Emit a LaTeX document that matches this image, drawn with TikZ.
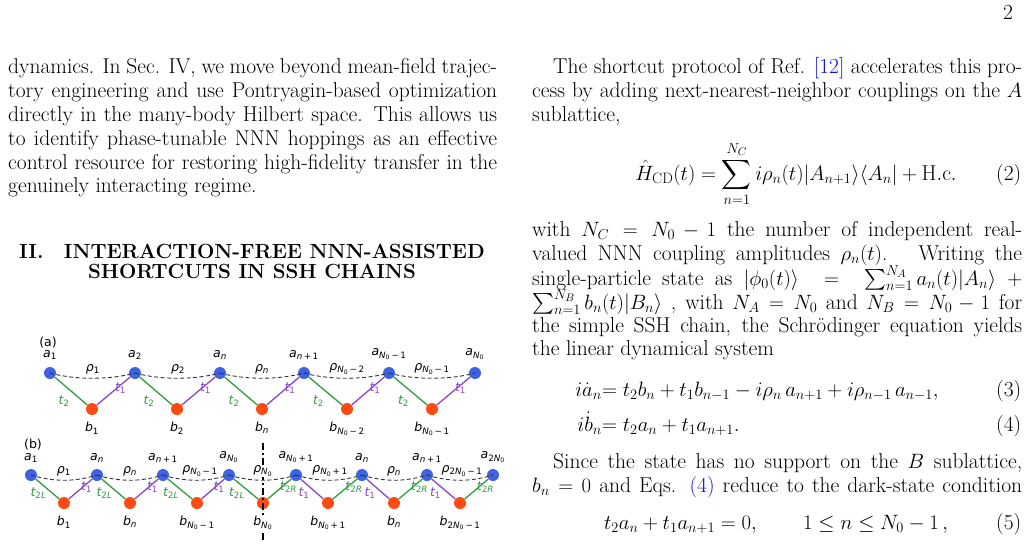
\documentclass[tikz,border=0pt]{standalone}
\usepackage{amsmath}
\usepackage{fontspec}
\usetikzlibrary{calc,positioning}
\newfontfamily\dv{DejaVu Sans}
\definecolor{nblue}{HTML}{3F63E0}
\definecolor{nred}{HTML}{FF4A12}
\definecolor{tgreen}{HTML}{2E9E3E}
\definecolor{tpurple}{HTML}{8B45C8}
\definecolor{lnk}{HTML}{1010E0}
\newcommand\sv[2]{{\itshape #1}\textsubscript{#2}}
\newcommand\NN{\sv{N}{0}}
\newcommand\nn{{\itshape n}}
\begin{document}
\begin{tikzpicture}[x=1pt,y=-1pt,
  txt/.style={anchor=base west,inner sep=0pt,font=\fontsize{21.5}{24}\selectfont},
  eqn/.style={anchor=base,inner sep=0pt,font=\fontsize{21.5}{24}\selectfont},
  anode/.style={circle,fill=nblue,inner sep=0pt,minimum size=12pt},
  bnode/.style={circle,fill=nred,inner sep=0pt,minimum size=12pt},
  lab/.style={inner sep=0pt,font=\dv\fontsize{12.5}{14}\selectfont},
  tg/.style={draw=tgreen,line width=1.3pt},
  tp/.style={draw=tpurple,line width=1.3pt},
  nnn/.style={draw=black!80,dashed,line width=0.9pt,dash pattern=on 4pt off 2.5pt}]
\useasboundingbox (0,0) rectangle (1029,555);
\newcommand\jl[4]{\node[txt] at (#1,#2) {\makebox[#3pt][s]{#4}};}
% page number
\node[txt] (pg) at (1003,19) {2};
% left column
\jl{8}{73}{489}{dynamics. In Sec. IV, we move beyond mean-field trajec-}
\jl{8}{97}{489}{tory engineering and use Pontryagin-based optimization}
\jl{8}{121}{489}{directly in the many-body Hilbert space. This allows us}
\jl{8}{145}{489}{to identify phase-tunable NNN hoppings as an effective}
\jl{8}{169}{489}{control resource for restoring high-fidelity transfer in the}
\node[txt] (l6) at (8,192) {genuinely interacting regime.};
\node[eqn,font=\fontsize{20.5}{24}\selectfont\bfseries] (h1) at (252,258) {II.\quad INTERACTION-FREE NNN-ASSISTED};
\node[eqn,font=\fontsize{20.5}{24}\selectfont\bfseries] (h2) at (252,278) {SHORTCUTS IN SSH CHAINS};
% right column
\jl{553}{73}{469}{The shortcut protocol of Ref. {\color{lnk}[12]} accelerates this pro-}
\jl{532}{97}{490}{cess by adding next-nearest-neighbor couplings on the $A$}
\node[txt] (r3) at (532,121) {sublattice,};
\node[eqn] (e2) at (796,180) {$\displaystyle \hat H_{\rm CD}(t)=\sum_{n=1}^{N_C} i\rho_n(t)|A_{n+1}\rangle\langle A_n|+{\rm H.c.}$};
\node[txt] (n2) at (996,180) {(2)};
\jl{532}{236}{490}{with $N_C=N_0-1$ the number of independent real-}
\jl{532}{260}{490}{valued NNN coupling amplitudes $\rho_n(t)$. \ Writing the}
\jl{532}{285}{490}{single-particle state as $|\phi_0(t)\rangle\ =\ \sum_{n=1}^{N_A}a_n(t)|A_n\rangle\ +$}
\jl{532}{309}{490}{$\sum_{n=1}^{N_B}b_n(t)|B_n\rangle$ , with $N_A=N_0$ and $N_B=N_0-1$ for}
\jl{532}{332}{490}{the simple SSH chain, the Schrödinger equation yields}
\node[txt] (r9) at (532,355) {the linear dynamical system};
\node[txt,anchor=base east] (e3l) at (602,396) {$i\dot a_n$};
\node[txt] (e3r) at (602,396) {$=t_2b_n+t_1b_{n-1}-i\rho_n\,a_{n+1}+i\rho_{n-1}\,a_{n-1},$};
\node[txt] (n3) at (996,396) {(3)};
\node[txt,anchor=base east] (e4l) at (602,431) {$i\dot b_n$};
\node[txt] (e4r) at (602,431) {$=t_2a_n+t_1a_{n+1}.$};
\node[txt] (n4) at (996,431) {(4)};
\jl{553}{468}{469}{Since the state has no support on the $B$ sublattice,}
\jl{532}{492}{490}{$b_n=0$ and Eqs. {\color{lnk}(4)} reduce to the dark-state condition}
\node[eqn] (e5) at (776,529) {$t_2a_n+t_1a_{n+1}=0,\qquad 1\le n\le N_0-1\,,$};
\node[txt] (n5) at (996,529) {(5)};
% ---------- figure (a)
\node[lab] (la) at (48,343) {(a)};
\foreach \x [count=\i] in {50,135,220,304,389,475} \node[anode] (A\i) at (\x,373) {};
\foreach \x [count=\i] in {92,177,262,347,432} \node[bnode] (B\i) at (\x,409) {};
\foreach \i [evaluate=\i as \j using int(\i+1)] in {1,...,5}{
  \draw[tg] (A\i) -- (B\i);
  \draw[tp] (B\i) -- (A\j);
  \draw[nnn] (A\i.center) .. controls +(25,7) and +(-25,7) .. (A\j.center);
  \node[lab,text=tgreen] at ($(A\i)!0.5!(B\i)+(-7,10)$) {\sv{t}{2}};
  \node[lab,text=tpurple] at ($(B\i)!0.5!(A\j)+(7,-3)$) {\sv{t}{1}};
}
\node[lab,above=7pt of A1] {\sv{a}{1}};
\node[lab,above=7pt of A2] {\sv{a}{2}};
\node[lab,above=7pt of A3] {\sv{a}{\nn}};
\node[lab,above=7pt of A4] {\sv{a}{\nn\,+\,1}};
\node[lab,above=7pt of A5] {\sv{a}{\NN\,−\,1}};
\node[lab,above=7pt of A6] {\sv{a}{\NN}};
\node[lab,below=7pt of B1] {\sv{b}{1}};
\node[lab,below=7pt of B2] {\sv{b}{2}};
\node[lab,below=7pt of B3] {\sv{b}{\nn}};
\node[lab,below=7pt of B4] {\sv{b}{\NN\,−\,2}};
\node[lab,below=7pt of B5] {\sv{b}{\NN\,−\,1}};
\node[lab] at (93,369) {\sv{ρ}{1}};
\node[lab] at (178,369) {\sv{ρ}{2}};
\node[lab] at (262,369) {\sv{ρ}{\nn}};
\node[lab] at (347,369) {\sv{ρ}{\NN\,−\,2}};
\node[lab] at (432,369) {\sv{ρ}{\NN\,−\,1}};
% ---------- figure (b)
\node[lab] (lb) at (33,445) {(b)};
\coordinate (vt) at (263,443); \coordinate (vb) at (263,540);
\foreach \x [count=\i] in {31,97,163,229,296,362,427,493} \node[anode] (C\i) at (\x,475) {};
\foreach \x [count=\i] in {64,130,197,263,328,394,460} \node[bnode] (D\i) at (\x,503) {};
\foreach \i [evaluate=\i as \j using int(\i+1)] in {1,...,7}
  \draw[nnn] (C\i.center) .. controls +(22,7) and +(-22,7) .. (C\j.center);
\foreach \i [evaluate=\i as \j using int(\i+1)] in {1,...,3}{
  \draw[tg] (C\i) -- (D\i);
  \draw[tp] (D\i) -- (C\j);
  \node[lab,text=tgreen] at ($(C\i)!0.5!(D\i)+(-9,4)$) {\sv{t}{2\itshape L}};
  \node[lab,text=tpurple] at ($(D\i)!0.5!(C\j)+(6,-2)$) {\sv{t}{1}};
}
\draw[tg] (C4) -- (D4);
\node[lab,text=tgreen] at ($(C4)!0.5!(D4)+(-9,4)$) {\sv{t}{2\itshape L}};
\draw[tg] (D4) -- (C5);
\node[lab,text=tgreen] at ($(D4)!0.5!(C5)+(9,-2)$) {\sv{t}{2\itshape R}};
\foreach \i [evaluate=\i as \j using int(\i+1)] in {5,6,7}{
  \draw[tp] (C\i) -- (D\i);
  \draw[tg] (D\i) -- (C\j);
  \node[lab,text=tpurple] at ($(C\i)!0.5!(D\i)+(-8,4)$) {\sv{t}{1}};
  \node[lab,text=tgreen] at ($(D\i)!0.5!(C\j)+(9,-2)$) {\sv{t}{2\itshape R}};
}
\draw[line width=2.2pt,dash pattern=on 7pt off 3pt on 2pt off 3pt] (vt) -- (vb);
\node[lab,above=6pt of C1] {\sv{a}{1}};
\node[lab,above=6pt of C2] {\sv{a}{\nn}};
\node[lab,above=6pt of C3] {\sv{a}{\nn\,+\,1}};
\node[lab,above=6pt of C4] {\sv{a}{\NN}};
\node[lab,above=6pt of C5] {\sv{a}{\NN\,+\,1}};
\node[lab,above=6pt of C6] {\sv{a}{\nn}};
\node[lab,above=6pt of C7] {\sv{a}{\nn\,+\,1}};
\node[lab,above=6pt of C8] {\sv{a}{2\NN}};
\node[lab,below=7pt of D1] {\sv{b}{1}};
\node[lab,below=7pt of D2] {\sv{b}{\nn}};
\node[lab,below=7pt of D3] {\sv{b}{\NN\,−\,1}};
\node[lab,below=7pt of D4,fill=white] {\sv{b}{\NN}};
\node[lab,below=7pt of D5] {\sv{b}{\NN\,+\,1}};
\node[lab,below=7pt of D6] {\sv{b}{\nn}};
\node[lab,below=7pt of D7] {\sv{b}{2\NN\,−\,1}};
\node[lab] at (64,471) {\sv{ρ}{1}};
\node[lab] at (130,471) {\sv{ρ}{\nn}};
\node[lab] at (200,471) {\sv{ρ}{\NN\,−\,1}};
\node[lab,fill=white,inner sep=1pt] at (263,471) {\sv{ρ}{\NN}};
\node[lab] at (330,471) {\sv{ρ}{\NN\,+\,1}};
\node[lab] at (394,471) {\sv{ρ}{\nn}};
\node[lab] at (462,471) {\sv{ρ}{2\NN\,−\,1}};
\end{tikzpicture}
\end{document}
